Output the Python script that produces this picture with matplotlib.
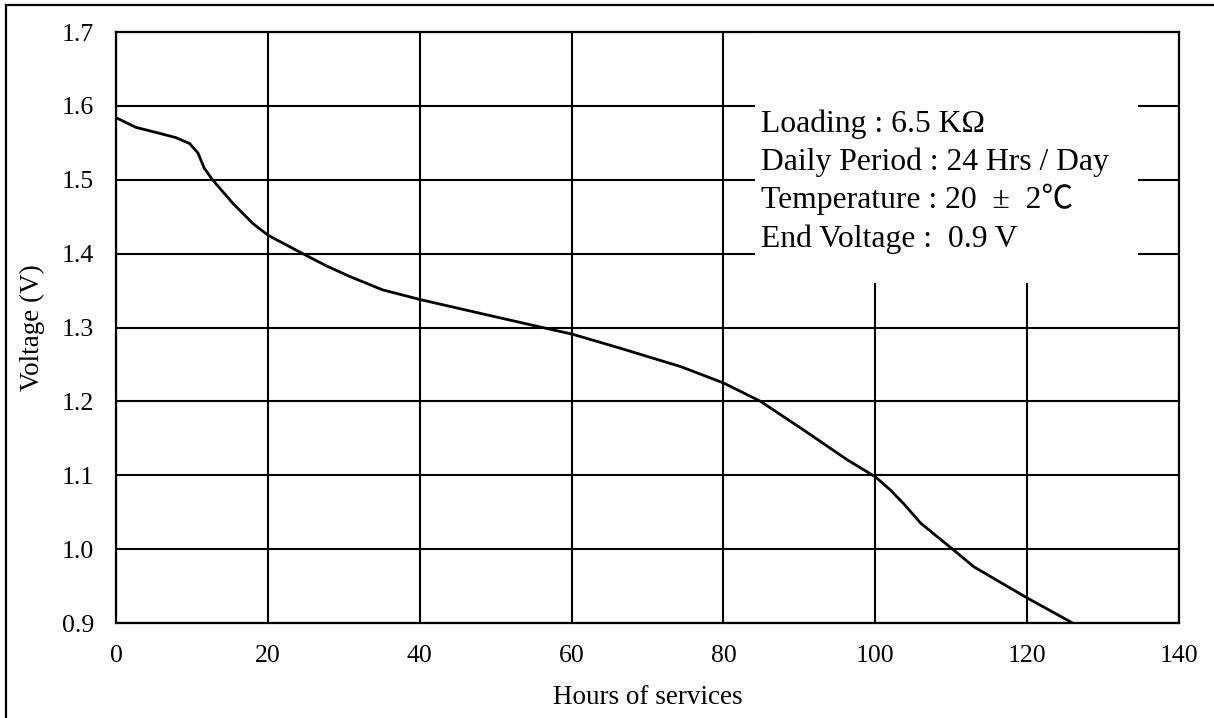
import matplotlib.pyplot as plt
from matplotlib.patches import Rectangle
from matplotlib.lines import Line2D

# discharge curve
hours = [0, 2.6, 5.3, 7.9, 9.7, 10.8, 11.6, 12.7, 15.4, 18.0, 20.0, 24.6,
         27.8, 30.8, 35.1, 40.0, 48.9, 56.6, 60.1, 66.4, 74.4, 80.0, 84.9,
         90.6, 96.3, 100.0, 102.0, 103.7, 106.0, 110.3, 113.0, 116.5, 120.0,
         126.0]
volts = [1.584, 1.571, 1.564, 1.557, 1.549, 1.536, 1.516, 1.500, 1.468,
         1.441, 1.425, 1.400, 1.383, 1.369, 1.351, 1.338, 1.317, 1.299,
         1.291, 1.272, 1.247, 1.225, 1.200, 1.161, 1.121, 1.098, 1.080,
         1.062, 1.035, 0.999, 0.976, 0.955, 0.934, 0.900]

info_lines = ["Loading : 6.5 KΩ",
              "Daily Period : 24 Hrs / Day",
              "Temperature : 20  ±  2℃",
              "End Voltage :  0.9 V"]

fonts = ['Liberation Serif', 'Noto Sans CJK SC', 'DejaVu Sans']
plt.rcParams['font.family'] = fonts

fig = plt.figure(figsize=(12.14, 7.18), dpi=100)
ax = fig.add_axes([0.0956, 0.1323, 0.8755, 0.8231])

ax.plot(hours, volts, color='black', lw=2.0, zorder=3)

ax.set_xlim(0, 140)
ax.set_ylim(0.9, 1.7)
ax.set_xticks(range(0, 141, 20))
ax.set_yticks([0.9, 1.0, 1.1, 1.2, 1.3, 1.4, 1.5, 1.6, 1.7])
ax.set_yticklabels([f"{v:.1f}" for v in ax.get_yticks()])
ax.tick_params(length=0, pad=16, labelsize=18.5)
ax.grid(True, color='black', lw=1.5, zorder=0.5)
ax.set_axisbelow(True)
for s in ax.spines.values():
    s.set_linewidth(1.6)
    s.set_zorder(4)

ax.set_xlabel("Hours of services", fontsize=19.5, labelpad=13)
ax.set_ylabel("Voltage (V)", fontsize=19.5, labelpad=12)

# white box behind the conditions text
ax.add_patch(Rectangle((84.2, 1.36), 50.4, 0.35, facecolor='white',
                       edgecolor='none', zorder=1))
ys = [1.5646, 1.5132, 1.4618, 1.409]
for t, y in zip(info_lines, ys):
    ax.text(85.0, y, t, fontsize=22.8, va='baseline', ha='left', zorder=2)

# partial outer frame
fig.add_artist(Line2D([6 / 1214, 6 / 1214], [0, 1 - 5 / 718],
                      color='black', lw=1.6))
fig.add_artist(Line2D([6 / 1214, 1], [1 - 5 / 718, 1 - 5 / 718],
                      color='black', lw=1.6))

fig.savefig('out.png', dpi=100)
